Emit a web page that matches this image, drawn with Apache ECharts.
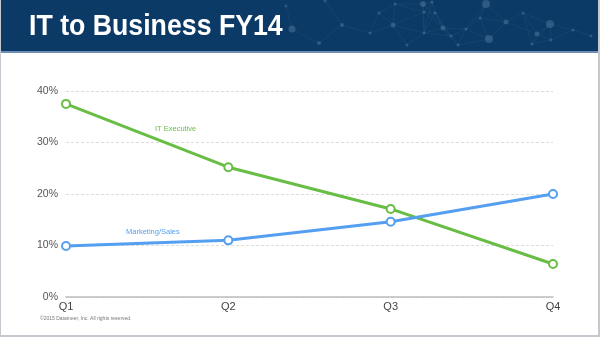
<!DOCTYPE html>
<html>
<head>
<meta charset="utf-8">
<script src="https://cdn.jsdelivr.net/npm/echarts@6/dist/echarts.min.js"></script>
<style>
  html, body { margin: 0; padding: 0; background: #fff; }
  #chart { width: 600px; height: 337px; }
</style>
</head>
<body>
<div id="chart"></div>
<script>
// Quarterly share of tech decision makers
var quarters = ['Q1', 'Q2', 'Q3', 'Q4'];
var itExecutive = [37.5, 25.2, 17.1, 6.4];
var marketingSales = [9.9, 11.0, 14.6, 20.0];
var yTicks = [0, 10, 20, 30, 40];

var GREEN = '#68bd45';
var BLUE = '#559ff0';

// Decorative network pattern in the header band
var nodes = [
  [286, 6, 1.5], [292, 29, 3.5], [319, 43, 2], [325, 1, 1.5], [342, 25, 2],
  [370, 33, 1.5], [379, 13, 1.5], [393, 25, 2.5], [395, 4, 1.5], [407, 45, 1.5],
  [423, 4, 3], [424, 12, 1.5], [424, 33, 1.5], [432, 2, 1.5], [435, 13, 1.5],
  [443, 28, 2.5], [451, 36, 1.5], [458, 45, 1.5], [466, 29, 1.5], [480, 18, 1.5],
  [486, 4, 4], [489, 39, 4], [506, 22, 2.5], [523, 13, 1.5], [532, 44, 1.5],
  [537, 34, 2.5], [550, 24, 4], [551, 40, 1.5], [573, 30, 1.5], [591, 36, 1.5]
];
var netGraphics = [];
for (var i = 0; i < nodes.length; i++) {
  for (var j = i + 1; j < nodes.length; j++) {
    var dx = nodes[i][0] - nodes[j][0], dy = nodes[i][1] - nodes[j][1];
    if (dx * dx + dy * dy < 34 * 34) {
      netGraphics.push({
        type: 'line', silent: true,
        shape: { x1: nodes[i][0], y1: nodes[i][1], x2: nodes[j][0], y2: nodes[j][1] },
        style: { stroke: 'rgba(120,160,200,0.14)', lineWidth: 0.6 }
      });
    }
  }
}
nodes.forEach(function (n) {
  netGraphics.push({
    type: 'circle', silent: true,
    shape: { cx: n[0], cy: n[1], r: n[2] },
    style: { fill: 'rgba(120,160,200,0.3)' }
  });
});

var chart = echarts.init(document.getElementById('chart'), null, { renderer: 'canvas' });

chart.setOption({
  animation: false,
  backgroundColor: '#ffffff',
  textStyle: { fontFamily: 'Liberation Sans, Arial, sans-serif' },
  grid: { left: 66, right: 47, top: 91, bottom: 40, containLabel: false },
  xAxis: {
    type: 'category',
    data: quarters,
    boundaryGap: false,
    axisLine: { show: true, lineStyle: { color: '#bdbdbd', width: 1.5 } },
    axisTick: { show: false },
    axisLabel: { color: '#444', fontSize: 11, margin: 4 },
    splitLine: { show: false }
  },
  yAxis: {
    type: 'value',
    min: yTicks[0],
    max: yTicks[yTicks.length - 1],
    interval: 10,
    axisLine: { show: false },
    axisTick: { show: false },
    axisLabel: { color: '#555', fontSize: 10.5, margin: 8, formatter: '{value}%' },
    splitLine: { show: true, lineStyle: { color: '#dcdcdc', type: [3, 2], width: 1 } }
  },
  series: [
    {
      name: 'IT Executive',
      type: 'line',
      data: itExecutive,
      symbol: 'emptyCircle',
      symbolSize: 8,
      showAllSymbol: true,
      lineStyle: { color: GREEN, width: 3 },
      itemStyle: { color: GREEN, borderColor: GREEN, borderWidth: 2.5 },
      z: 3
    },
    {
      name: 'Marketing/Sales',
      type: 'line',
      data: marketingSales,
      symbol: 'emptyCircle',
      symbolSize: 8,
      showAllSymbol: true,
      lineStyle: { color: BLUE, width: 3 },
      itemStyle: { color: BLUE, borderColor: BLUE, borderWidth: 2.5 },
      z: 4
    }
  ],
  graphic: [
    // header band
    { type: 'rect', silent: true, z: 0, shape: { x: 0, y: 0, width: 600, height: 52 },
      style: { fill: '#0c3a66' } },
    { type: 'rect', silent: true, z: 0, shape: { x: 0, y: 51, width: 600, height: 2 },
      style: { fill: '#6e8fb3' } },
    { type: 'group', z: 1, children: netGraphics },
    { type: 'text', z: 2, x: 29, y: 12, scaleX: 0.89,
      style: { text: 'IT to Business FY14', fill: '#ffffff',
               font: 'bold 30px "Liberation Sans", Arial, sans-serif' } },
    // page frame
    { type: 'rect', silent: true, z: 0, shape: { x: 0, y: 0, width: 1, height: 337 },
      style: { fill: '#c5c9cf' } },
    { type: 'rect', silent: true, z: 0, shape: { x: 598, y: 0, width: 2, height: 337 },
      style: { fill: '#c5c9cf' } },
    { type: 'rect', silent: true, z: 0, shape: { x: 0, y: 335, width: 600, height: 2 },
      style: { fill: '#c5c9cf' } },
    // series captions
    { type: 'text', left: 155, top: 125,
      style: { text: 'IT Executive', fill: GREEN, font: '7.5px "Liberation Sans", Arial, sans-serif' } },
    { type: 'text', left: 126, top: 228,
      style: { text: 'Marketing/Sales', fill: BLUE, font: '7.5px "Liberation Sans", Arial, sans-serif' } },
    // footer
    { type: 'text', left: 40, top: 316,
      style: { text: '\u00a92015 Datameer, Inc. All rights reserved.', fill: '#777',
               font: '5px "Liberation Sans", Arial, sans-serif' } }
  ]
});
</script>
</body>
</html>
